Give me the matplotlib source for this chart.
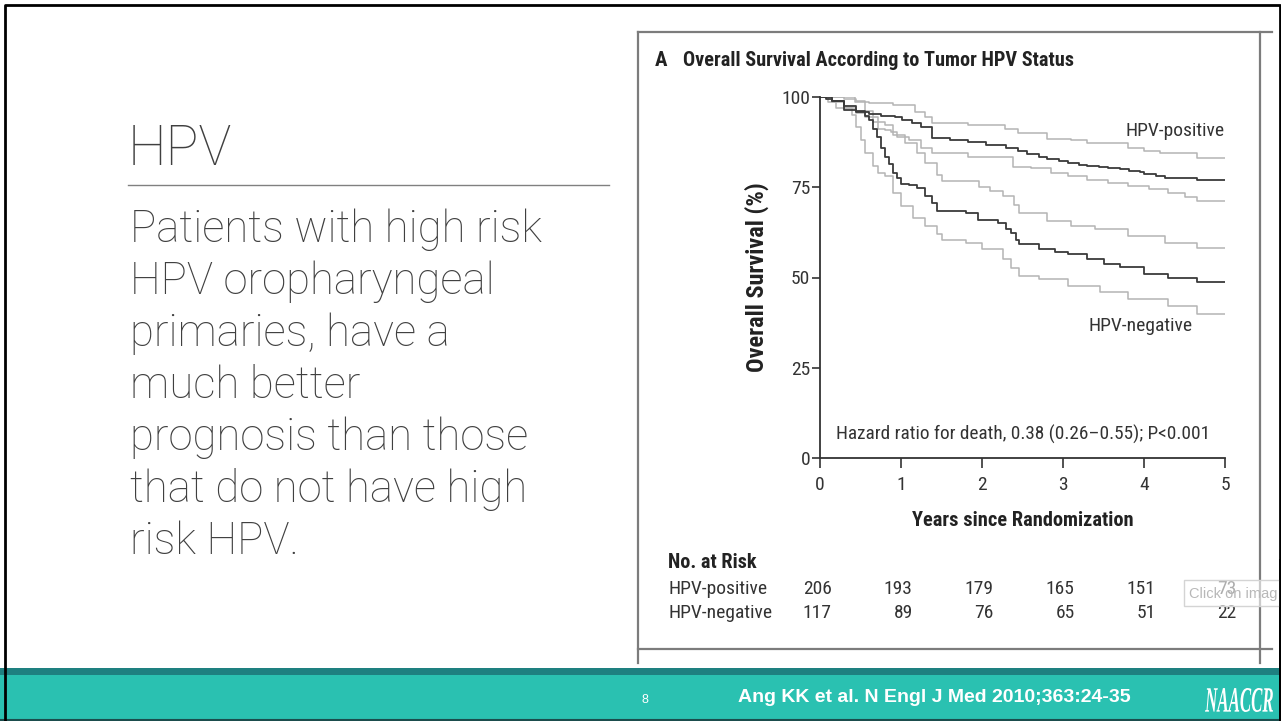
import matplotlib
matplotlib.use('Agg')
import matplotlib.pyplot as plt
from matplotlib.patches import Rectangle, PathPatch
from matplotlib.textpath import TextPath
from matplotlib.font_manager import FontProperties
from matplotlib.transforms import Affine2D, blended_transform_factory

# Kaplan-Meier curves (years, overall survival %)
pos_t = [0, 0.08, 0.15, 0.3, 0.45, 0.6, 0.75, 0.93, 1.01, 1.13, 1.25, 1.38, 1.6, 1.83, 2.05, 2.3, 2.45, 2.56, 2.7, 2.8,
         2.95, 3.06, 3.2, 3.3, 3.45, 3.56, 3.7, 3.81, 3.95, 4.0, 4.15, 4.26, 4.66, 5.0]
pos_s = [100, 99.5, 99, 96.4, 95.8, 95.3, 94.8, 94.5, 93.6, 92.7, 91.8, 88.6, 88.2, 87.6, 86.8, 85.8, 85, 84.2, 83.5, 82.8,
         82.3, 81.8, 81.3, 80.9, 80.6, 80.3, 80, 79.6, 79.2, 78.7, 78.1, 77.5, 76.9, 76.9]
pos_hi_t = [0, 0.43, 0.6, 0.9, 1.17, 1.3, 1.38, 1.83, 2.28, 2.45, 2.8, 3.1, 3.3, 3.8, 4.0, 4.2, 4.66, 5.0]
pos_hi_s = [100, 98.7, 98.3, 97.8, 95.9, 94.5, 92.7, 92.3, 91.2, 90, 88.5, 88, 87.2, 85.8, 85, 84.5, 83, 83]
pos_lo_t = [0, 0.15, 0.3, 0.45, 0.55, 0.72, 0.8, 0.88, 0.95, 1.1, 1.25, 1.38, 1.83, 2.38, 2.6, 2.85, 3.06, 3.3, 3.56,
            3.8, 4.06, 4.3, 4.5, 4.66, 5.0]
pos_lo_s = [100, 98.5, 97, 95.5, 94.5, 91.2, 90.8, 90.3, 89, 88, 86, 84.4, 83.5, 80.7, 80.3, 79, 78, 77, 76.1,
            75.3, 74.5, 73.4, 72.3, 71.1, 71.1]

neg_t = [0, 0.15, 0.3, 0.45, 0.55, 0.6, 0.65, 0.7, 0.75, 0.8, 0.85, 0.9, 0.95, 1.0, 1.1, 1.2, 1.3, 1.38, 1.45, 1.8,
         1.95, 2.2, 2.3, 2.36, 2.42, 2.46, 2.7, 2.9, 3.06, 3.3, 3.5, 3.7, 4.0, 4.3, 4.66, 5.0]
neg_s = [100, 99, 97.5, 96, 94.8, 93.6, 91, 89, 86, 83.5, 81.5, 79, 77.5, 76, 75.5, 74.8, 72.5, 70.5, 68.3, 68,
         66, 65, 63.5, 62.4, 60.5, 59.2, 57.8, 57, 56.4, 55, 53.7, 52.8, 50.9, 50, 48.8, 48.8]
neg_hi_t = [0, 0.3, 0.45, 0.55, 0.65, 0.8, 0.9, 1.05, 1.2, 1.3, 1.45, 1.5, 1.96, 2.1, 2.26, 2.4, 2.46, 2.8, 3.1, 3.4,
            3.8, 4.26, 4.66, 5.0]
neg_hi_s = [100, 99.5, 99, 96, 93, 92.2, 89.5, 87.2, 84.5, 81.7, 78.5, 76.6, 75.2, 74, 72.5, 70, 67.9, 65.6, 64.3, 63.3,
            61.5, 59.6, 58.3, 58.3]
neg_lo_t = [0, 0.1, 0.2, 0.4, 0.45, 0.5, 0.55, 0.65, 0.72, 0.8, 0.9, 1.0, 1.15, 1.3, 1.45, 1.5, 1.8, 2.0, 2.26, 2.36,
            2.46, 2.7, 3.06, 3.46, 3.8, 4.3, 4.66, 5.0]
neg_lo_s = [100, 98.5, 97, 95, 91.7, 88, 84.4, 81, 79, 78, 73.5, 69.7, 66.5, 64.2, 62, 60.4, 59.6, 57.8, 55, 52.5,
            50.5, 49.5, 47.7, 45.9, 44, 42.2, 39.9, 39.9]

years = [0, 1, 2, 3, 4, 5]
y_ticks = [0, 25, 50, 75, 100]
risk_pos = [206, 193, 179, 165, 151, 73]
risk_neg = [117, 89, 76, 65, 51, 22]

body_lines = ['Patients with high risk', 'HPV oropharyngeal', 'primaries, have a', 'much better',
              'prognosis than those', 'that do not have high', 'risk HPV.']

NARROW = ['Liberation Sans Narrow', 'Roboto Condensed', 'Roboto', 'DejaVu Sans']
SLIDE = ['Roboto', 'Lato', 'DejaVu Sans']
DARK = '#3a3a3a'
LIGHT = '#b4b4b4'
GREY_TXT = '#404040'

W, H = 1281, 721
fig = plt.figure(figsize=(W / 100, H / 100), dpi=100)

# background axes in pixel coordinates for the slide decoration
bg = fig.add_axes([0, 0, 1, 1])
bg.set_xlim(0, W)
bg.set_ylim(H, 0)
bg.axis('off')

# footer band
bg.add_patch(Rectangle((0, 668), W, 7, color='#1e8080', lw=0))
bg.add_patch(Rectangle((0, 675), W, 46, color='#2ac1b1', lw=0))
bg.plot([0, W], [720, 720], color='#1b4d4d', lw=1.5)

# slide border
bg.plot([4.5, 4.5, 1279.5, 1279.5], [721, 4.5, 4.5, 721], color='black', lw=2)

# frame of the pasted figure
fc = '#7c7c7c'
bg.plot([638, 638], [32, 663], color=fc, lw=1.6)
bg.plot([638, 1272], [32, 32], color=fc, lw=1.6)
bg.plot([1260, 1260], [32, 663], color=fc, lw=1.6)
bg.plot([638, 1272], [649, 649], color=fc, lw=1.6)

# left text
bg.text(128, 165, 'HPV', fontsize=39.5, family=SLIDE, weight='light', color=GREY_TXT, va='baseline', ha='left')
bg.plot([128, 609], [185, 185], color='#808080', lw=1)
for i, line in enumerate(body_lines):
    bg.text(130, 242 + 52 * i, line, fontsize=31.5, family=SLIDE, weight='light', color=GREY_TXT,
            va='baseline', ha='left')

# footer texts
bg.text(645, 700, '8', fontsize=9, color='white', ha='center', va='center', family='Liberation Sans')
bg.text(738, 697, 'Ang KK et al. N Engl J Med 2010;363:24-35', fontsize=14, weight='bold', color='white',
        ha='left', va='center', family='Liberation Sans')
fp = FontProperties(family='Liberation Serif', style='italic', weight='bold')
tp = TextPath((0, 0), 'NAACCR', size=10, prop=fp)
ext = tp.get_extents()
tr = Affine2D().translate(-ext.x0, -ext.y0).scale(68 / ext.width, -24 / ext.height).translate(1205, 712)
bg.add_patch(PathPatch(tr.transform_path(tp), fc='white', ec='none'))

# chart title
bg.text(655, 60, 'A', fontsize=15, weight='bold', family=NARROW, color='#222222', va='center', ha='left')
bg.text(683, 60, 'Overall Survival According to Tumor HPV Status', fontsize=14.6, weight='bold',
        family=NARROW, color='#222222', va='center', ha='left')

# KM axes
x0, x1, y0, y1 = 820, 1225, 458, 97
ax = fig.add_axes([x0 / W, 1 - y0 / H, (x1 - x0) / W, (y0 - y1) / H])
ax.set_xlim(0, 5)
ax.set_ylim(0, 100)
ax.patch.set_alpha(0)
for s in ['top', 'right']:
    ax.spines[s].set_visible(False)
for s in ['left', 'bottom']:
    ax.spines[s].set_color('#333333')
    ax.spines[s].set_linewidth(1.3)
ax.spines['bottom'].set_zorder(5)

for t, s in [(pos_hi_t, pos_hi_s), (pos_lo_t, pos_lo_s), (neg_hi_t, neg_hi_s), (neg_lo_t, neg_lo_s)]:
    ax.step(t, s, where='post', color=LIGHT, lw=1.1)
ax.step(pos_t, pos_s, where='post', color=DARK, lw=1.3)
ax.step(neg_t, neg_s, where='post', color=DARK, lw=1.3)

ax.set_xticks(years)
ax.set_yticks(y_ticks)
ax.tick_params(axis='x', direction='out', length=7, width=1.2, pad=6, labelsize=14, colors='#333333')
ax.tick_params(axis='y', direction='out', length=6, width=1.2, pad=1, labelsize=14, colors='#333333')
for lab in ax.get_xticklabels() + ax.get_yticklabels():
    lab.set_family(NARROW)

ax.set_xlabel('Years since Randomization', fontsize=14.7, weight='bold', family=NARROW, color='#222222')
ax.xaxis.label.set_va('center')
ax.xaxis.set_label_coords(0.5, -(521 - y0) / (y0 - y1))
ax.set_ylabel('Overall Survival (%)', fontsize=17.5, weight='bold', family=NARROW, color='#222222')
ax.yaxis.label.set_va('center')
ax.yaxis.set_label_coords((757 - x0) / (x1 - x0), 0.5)

ax.text(3.77, 90.6, 'HPV-positive', fontsize=14, family=NARROW, color='#333333', va='center', ha='left')
ax.text(3.31, 36.6, 'HPV-negative', fontsize=14, family=NARROW, color='#333333', va='center', ha='left')
ax.text(0.2, 6.4, 'Hazard ratio for death, 0.38 (0.26\u20130.55); P<0.001', fontsize=13.9, family=NARROW,
        color='#333333', va='center', ha='left')

# number at risk table
bt = blended_transform_factory(ax.transData, bg.transData)
bg.text(668, 562, 'No. at Risk', fontsize=14.6, weight='bold', family=NARROW, color='#222222', va='center')
bg.text(668, 589, 'HPV-positive', fontsize=14, family=NARROW, color='#333333', va='center')
bg.text(668, 613, 'HPV-negative', fontsize=14, family=NARROW, color='#333333', va='center')
for yr, p, n in zip(years, risk_pos, risk_neg):
    ax.text(yr + 0.145, 589, str(p), transform=bt, fontsize=14, family=NARROW, color='#333333',
            ha='right', va='center', clip_on=False)
    ax.text(yr + 0.145, 613, str(n), transform=bt, fontsize=14, family=NARROW, color='#333333',
            ha='right', va='center', clip_on=False)

# tooltip overlay
tip = fig.add_axes([0, 0, 1, 1])
tip.set_xlim(0, W)
tip.set_ylim(H, 0)
tip.axis('off')
tip.add_patch(Rectangle((1184, 580), 110, 26, fc=(1, 1, 1, 0.6), ec='#d4d4d4', lw=1))
tip.text(1189, 594, 'Click on imag', fontsize=10.5, family=['Liberation Sans', 'DejaVu Sans'], color='#b8b8b8',
         va='center', ha='left')
tip.plot([1279.5, 1279.5], [560, 721], color='black', lw=2)

fig.savefig('out.png', dpi=100)
